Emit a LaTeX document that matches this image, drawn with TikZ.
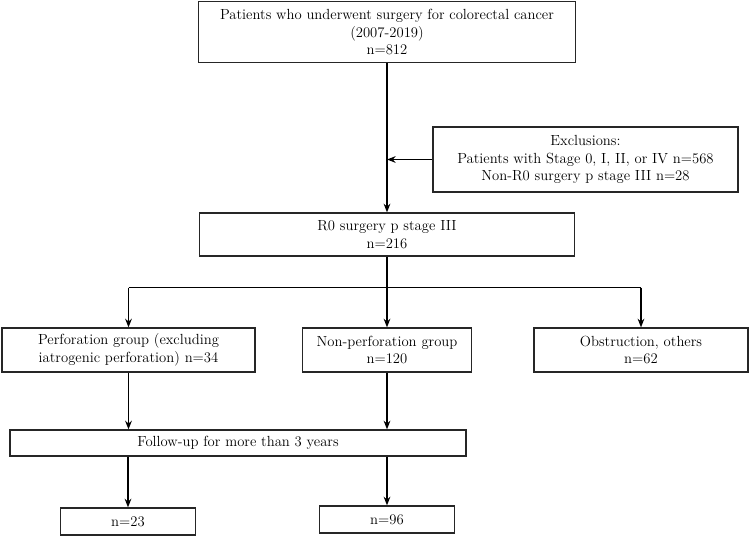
\documentclass[tikz,border=0pt]{standalone}
\usepackage{tikz}
\usetikzlibrary{positioning,arrows.meta,calc}

\begin{document}
\begin{tikzpicture}[x=0.75pt, y=-0.75pt,
  box/.style={draw=black!85, line width=0.9pt, fill=white, align=center, inner sep=1pt,
              font=\fontsize{11}{13}\selectfont},
  arr/.style={-{Stealth[length=6.5pt,width=5pt]}, line width=1.1pt},
  ln/.style={line width=1.1pt}]
\useasboundingbox (0,0) rectangle (750,539);
% boxes
\node[box, minimum width=377*0.75pt, minimum height=61*0.75pt] (top) at (387,32)
  {Patients who underwent surgery for colorectal cancer\\(2007-2019)\\n=812};
\node[box, minimum width=305*0.75pt, minimum height=65*0.75pt] (excl) at (585.5,159.5)
  {Exclusions:\\Patients with Stage 0, I, II, or IV n=568\\Non-R0 surgery p stage III n=28};
\node[box, minimum width=375*0.75pt, minimum height=43*0.75pt] (r0) at (387,234.5)
  {R0 surgery p stage III\\n=216};
\node[box, minimum width=253*0.75pt, minimum height=44*0.75pt] (perf) at (128.5,350)
  {Perforation group (excluding\\iatrogenic perforation) n=34};
\node[box, minimum width=169*0.75pt, minimum height=44*0.75pt] (nonperf) at (387,350)
  {Non-perforation group\\n=120};
\node[box, minimum width=214*0.75pt, minimum height=44*0.75pt] (obst) at (641,350)
  {Obstruction, others\\n=62};
\node[box, minimum width=456*0.75pt, minimum height=26*0.75pt] (follow) at (238,443)
  {Follow-up for more than 3 years};
\node[box, minimum width=135*0.75pt, minimum height=27*0.75pt] (n23) at (128,521.5) {n=23};
\node[box, minimum width=135*0.75pt, minimum height=27*0.75pt] (n96) at (387,519.5) {n=96};
% connectors
\coordinate (split) at ($(r0.south)+(0,31)$);
\draw[arr] (top) -- (r0);
\draw[arr] (excl.west) -- (excl.west -| top.south);
\draw[ln] (r0.south) -- (split);
\draw[ln] (split -| perf.north) -- (split -| obst.north);
\foreach \g in {perf,nonperf,obst} \draw[arr] (split -| \g.north) -- (\g.north);
\foreach \g in {perf,nonperf} \draw[arr] (\g.south) -- (\g.south |- follow.north);
\foreach \g in {n23,n96} \draw[arr] (\g.north |- follow.south) -- (\g.north);
\end{tikzpicture}
\end{document}
